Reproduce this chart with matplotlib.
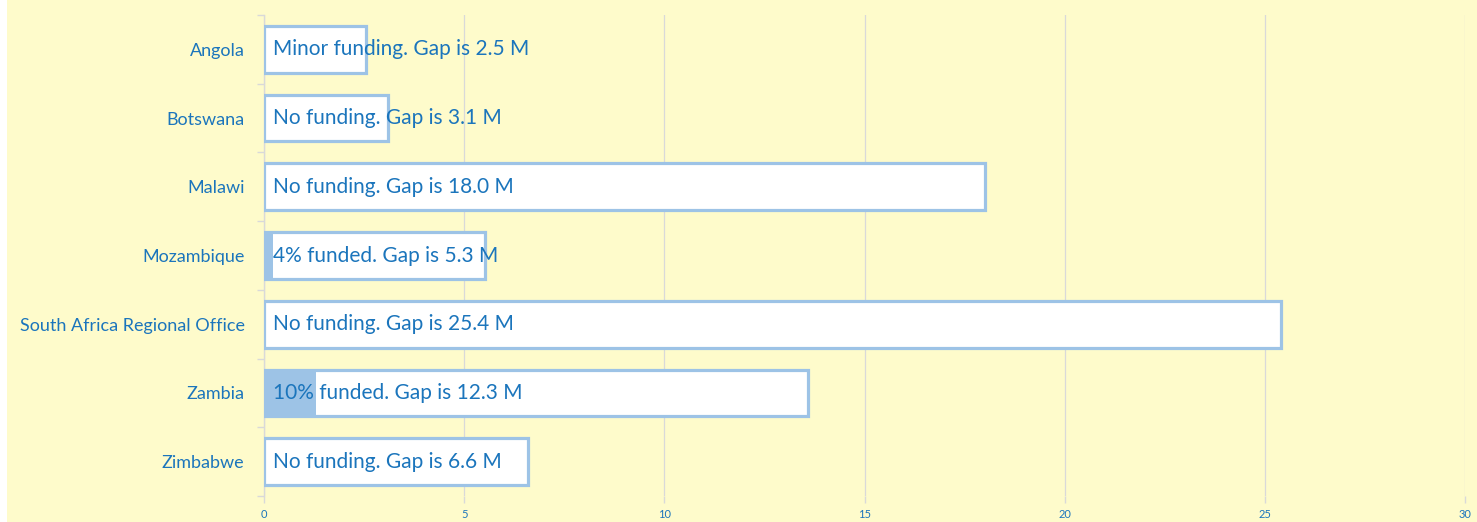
import matplotlib
matplotlib.use("Agg")
import matplotlib.pyplot as plt
from matplotlib.patches import Rectangle

# data (values in millions)
countries = ["Angola", "Botswana", "Malawi", "Mozambique",
             "South Africa Regional Office", "Zambia", "Zimbabwe"]
funded = [0.05, 0.0, 0.0, 0.22, 0.0, 1.3, 0.0]
gap = [2.5, 3.1, 18.0, 5.3, 25.4, 12.3, 6.6]
labels = ["Minor funding. Gap is 2.5 M", "No funding. Gap is 3.1 M",
          "No funding. Gap is 18.0 M", "4% funded. Gap is 5.3 M",
          "No funding. Gap is 25.4 M", "10% funded. Gap is 12.3 M",
          "No funding. Gap is 6.6 M"]
xticks = [0, 5, 10, 15, 20, 25, 30]

BG = "#FEFBCB"
TXT = "#1B75BC"
BAR = "#9DC3E6"
GRID = "#D9D9D9"

plt.rcParams["font.family"] = ["Lato", "DejaVu Sans"]

fig = plt.figure(figsize=(14.77, 5.22), dpi=100, facecolor=BG)
# white strip on the left edge
fig.patches.append(Rectangle((0, 0), 7 / 1477, 1, transform=fig.transFigure,
                             facecolor="white", edgecolor="none"))
ax = fig.add_axes([264 / 1477, 1 - 496 / 522, (1465 - 264) / 1477, (496 - 15) / 522])
ax.set_facecolor(BG)

y = list(range(len(countries)))
total = [f + g for f, g in zip(funded, gap)]
ax.barh(y, funded, height=0.68, color=BAR, edgecolor="none", zorder=3)
ax.barh(y, gap, left=funded, height=0.68, color="white", edgecolor="none", zorder=3)
ax.barh(y, total, height=0.68, color="none", edgecolor=BAR, linewidth=2.3, zorder=4)

for yi, lab in zip(y, labels):
    ax.text(0.22, yi, lab, va="center", ha="left", color=TXT, fontsize=15, zorder=5)

ax.set_xlim(0, 30)
ax.set_ylim(len(countries) - 0.5, -0.5)
ax.set_xticks(xticks)
ax.set_xticklabels([str(t) for t in xticks], color=TXT, fontsize=8)
ax.set_yticks(y)
ax.set_yticklabels(countries, color=TXT, fontsize=13)
ax.set_yticks([i + 0.5 for i in range(-1, len(countries))], minor=True)
ax.tick_params(axis="y", which="major", length=0, pad=14)
ax.tick_params(axis="y", which="minor", length=5, color=GRID, width=1)
ax.tick_params(axis="x", length=5, color=GRID, width=1, pad=4)

ax.grid(axis="x", color=GRID, linewidth=0.9, zorder=1)
ax.set_axisbelow(True)
for s in ["top", "right", "bottom"]:
    ax.spines[s].set_visible(False)
ax.spines["left"].set_color(GRID)
ax.spines["left"].set_linewidth(1)

fig.savefig("out.png", dpi=100, facecolor=fig.get_facecolor())
